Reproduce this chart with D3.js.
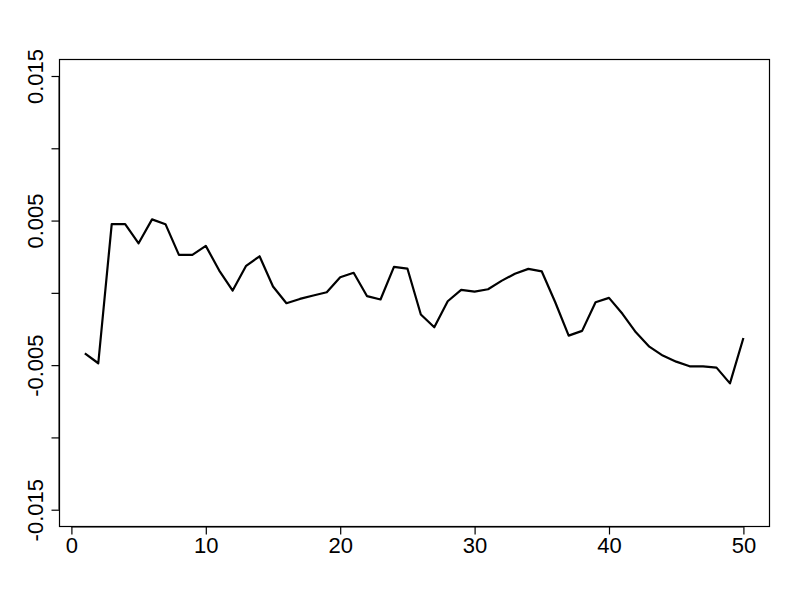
<!DOCTYPE html>
<html>
<head>
<meta charset="utf-8">
<script src="https://cdn.jsdelivr.net/npm/d3@7"></script>
<style>
  body { margin: 0; background: #fff; }
  .axis text { font-family: "Liberation Sans", Arial, sans-serif; font-size: 22px; fill: #000; }
</style>
</head>
<body>
<div id="chart"></div>
<script>
// series values, index 1..50
var idx = d3.range(1, 51);
var vals = [
  -0.00418, -0.00487, 0.00475, 0.00475, 0.00343, 0.00508, 0.00475, 0.00263, 0.00263, 0.00325,
   0.00154,  0.00016, 0.00187, 0.00253, 0.00044, -0.00072, -0.00042, -0.00018, 0.00004, 0.00108,
   0.00139, -0.00023, -0.00046, 0.00180, 0.00168, -0.00150, -0.00238, -0.00058, 0.00021, 0.00009,
   0.00025,  0.00083, 0.00132, 0.00166, 0.00148, -0.00065, -0.00296, -0.00263, -0.00065, -0.00035,
  -0.00145, -0.00273, -0.00372, -0.00434, -0.00476, -0.00508, -0.00508, -0.00517, -0.00626, -0.00312
];
var xTicks = [0, 10, 20, 30, 40, 50];
var yTicks = [-0.015, -0.01, -0.005, 0, 0.005, 0.01, 0.015];
var yLabelTicks = [-0.015, -0.005, 0.005, 0.015];

var W = 800, H = 600;
var box = {left: 59.5, right: 769.5, top: 59.5, bottom: 526.5};

var svg = d3.select("#chart").append("svg")
  .attr("width", W).attr("height", H);

var x = d3.scaleLinear().domain([0, 50]).range([71.4, 743.4]);
var y = d3.scaleLinear().domain([-0.015, 0.015]).range([509.7, 76]);

// data line
var line = d3.line()
  .x(function(d, i) { return x(idx[i]); })
  .y(function(d) { return y(d); });

svg.append("path")
  .attr("d", line(vals))
  .attr("fill", "none")
  .attr("stroke", "#000")
  .attr("stroke-width", 2.2)
  .attr("stroke-linejoin", "round");

// box
svg.append("rect")
  .attr("x", box.left).attr("y", box.top)
  .attr("width", box.right - box.left).attr("height", box.bottom - box.top)
  .attr("fill", "none").attr("stroke", "#000").attr("stroke-width", 1.2);

function fmt(d) { return String(d); }

// x axis
var xAxis = svg.append("g").attr("class", "axis")
  .attr("transform", "translate(0," + box.bottom + ")")
  .call(d3.axisBottom(x).tickValues(xTicks).tickSizeInner(8).tickSizeOuter(0).tickPadding(3)
    .tickFormat(fmt));
xAxis.select(".domain")
  .attr("d", "M" + x(0) + ",0.5H" + x(50));
xAxis.selectAll("line").attr("stroke", "#000").attr("stroke-width", 1.2);

// y axis
var yAxis = svg.append("g").attr("class", "axis")
  .attr("transform", "translate(" + box.left + ",0)")
  .call(d3.axisLeft(y).tickValues(yTicks).tickSizeInner(8).tickSizeOuter(0)
    .tickFormat(function(d) { return yLabelTicks.indexOf(d) >= 0 ? fmt(d) : ""; }));
yAxis.select(".domain")
  .attr("d", "M-0.5," + y(-0.015) + "V" + y(0.015));
yAxis.selectAll("line").attr("stroke", "#000").attr("stroke-width", 1.2);
yAxis.selectAll("text")
  .attr("x", null).attr("dy", null)
  .attr("text-anchor", "middle")
  .attr("transform", "translate(-17,0) rotate(-90)");
</script>
</body>
</html>
